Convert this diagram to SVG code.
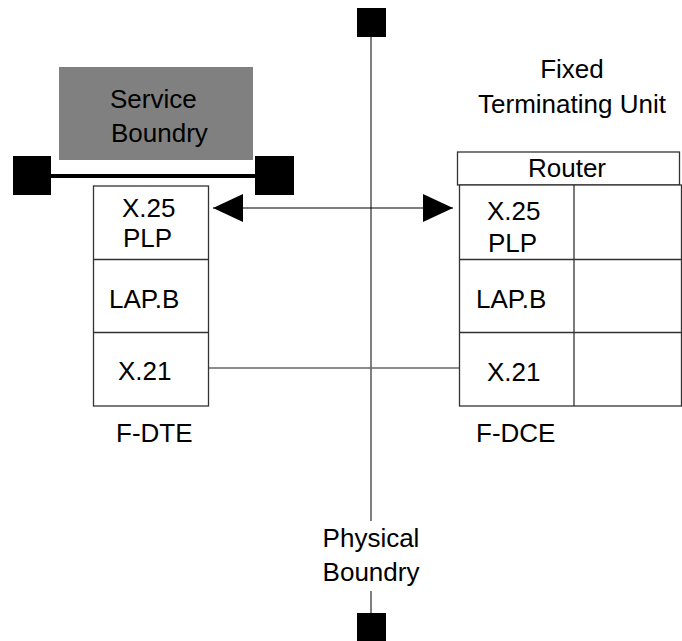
<svg xmlns="http://www.w3.org/2000/svg" width="682" height="641" viewBox="0 0 682 641">
<style>
text{font-family:"Liberation Sans",Arial,sans-serif;font-size:26px;fill:#000}
.box{fill:#fff;stroke:#333;stroke-width:1.3}
.div{stroke:#333;stroke-width:1.3;fill:none}
.blk{fill:#000}
</style>
<defs>
<marker id="ah" viewBox="0 0 30 28" refX="30" refY="14" markerWidth="30" markerHeight="28" markerUnits="userSpaceOnUse" orient="auto-start-reverse">
<path d="M0,0 L30,14 L0,28 Z" fill="#000"/>
</marker>
</defs>
<rect width="682" height="641" fill="#fff"/>
<g id="connectors">
<line x1="371" y1="37" x2="371" y2="521" stroke="#555" stroke-width="1.5"/>
<line x1="371" y1="591" x2="371" y2="613" stroke="#555" stroke-width="1.5"/>
<line x1="51" y1="176" x2="255" y2="176" stroke="#000" stroke-width="4"/>
<line x1="213" y1="208" x2="453" y2="208" stroke="#000" stroke-width="1.2" marker-start="url(#ah)" marker-end="url(#ah)"/>
<line x1="208" y1="368" x2="459" y2="368" stroke="#666" stroke-width="1.3"/>
</g>
<g id="boundary-top"><rect class="blk" x="357" y="8" width="29" height="29"/></g>
<g id="boundary-bottom"><rect class="blk" x="357" y="613" width="29" height="29"/></g>
<g id="service-left-end"><rect class="blk" x="13" y="156" width="38" height="39"/></g>
<g id="service-right-end"><rect class="blk" x="255" y="156" width="39" height="39"/></g>
<g id="service-boundry">
<rect x="59" y="67" width="194" height="93" fill="#808080"/>
<text x="110" y="108">Service</text>
<text x="111" y="141.5">Boundry</text>
</g>
<g id="fixed-terminating-unit">
<text x="572" y="78" text-anchor="middle">Fixed</text>
<text x="572" y="113" text-anchor="middle">Terminating Unit</text>
</g>
<g id="f-dte">
<rect class="box" x="93.5" y="186" width="115" height="220"/>
<line class="div" x1="93.5" y1="259.5" x2="208.5" y2="259.5"/>
<line class="div" x1="93.5" y1="332.5" x2="208.5" y2="332.5"/>
<text x="122" y="216.5">X.25</text>
<text x="123" y="246.5">PLP</text>
<text x="109" y="308">LAP.B</text>
<text x="118" y="380">X.21</text>
<text x="116" y="441.5">F-DTE</text>
</g>
<g id="router">
<rect class="box" x="457.5" y="152" width="222" height="33"/>
<text x="567" y="177" text-anchor="middle">Router</text>
</g>
<g id="f-dce">
<rect class="box" x="459.5" y="185" width="222" height="221"/>
<line class="div" x1="574" y1="185" x2="574" y2="406"/>
<line class="div" x1="459.5" y1="259.5" x2="681.5" y2="259.5"/>
<line class="div" x1="459.5" y1="332.5" x2="681.5" y2="332.5"/>
<text x="487" y="220">X.25</text>
<text x="488" y="252">PLP</text>
<text x="476" y="308">LAP.B</text>
<text x="487" y="380.5">X.21</text>
<text x="476" y="441.5">F-DCE</text>
</g>
<g id="physical-boundry">
<text x="371" y="546.5" text-anchor="middle">Physical</text>
<text x="371" y="581" text-anchor="middle">Boundry</text>
</g>
</svg>
